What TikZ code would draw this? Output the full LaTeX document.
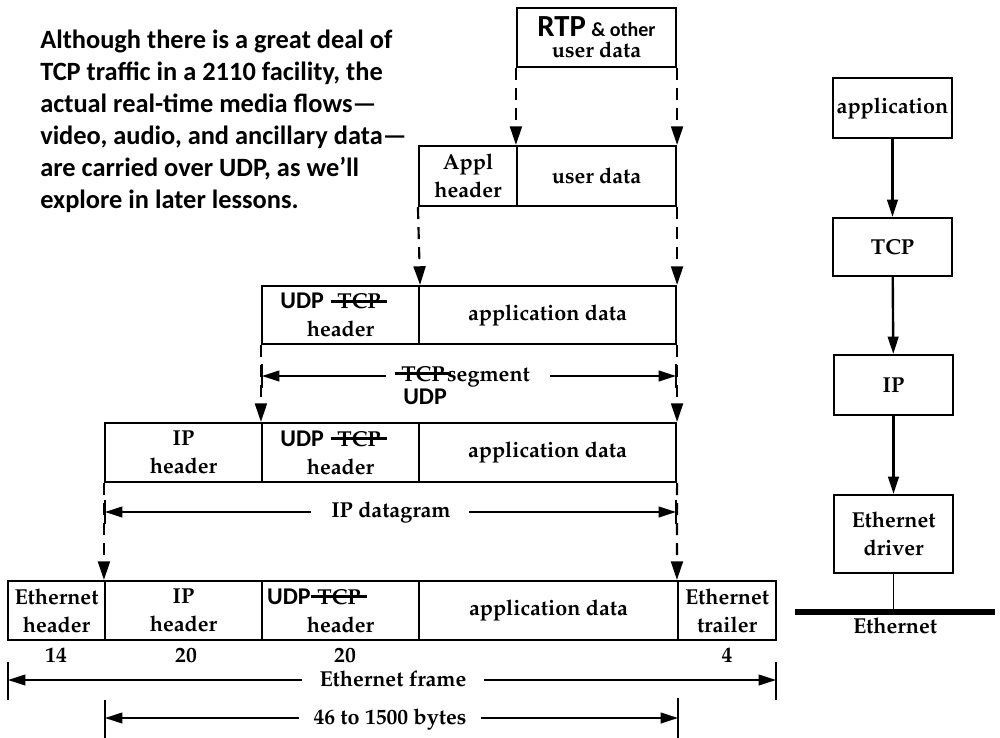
\documentclass[tikz,border=0pt]{standalone}
\usepackage[T1]{fontenc}
\usepackage{fontspec}
\newfontfamily\carl{Carlito}
\usetikzlibrary{arrows.meta,calc}
\newcommand\pal{\fontencoding{T1}\fontfamily{ppl}\fontseries{b}\selectfont}
\newcommand\sff{\carl\bfseries}
\newcommand\sfu{\carl\bfseries\fontsize{18}{21}\selectfont}
\newcommand\strk[1]{\setbox0\hbox{#1}\rlap{\kern-5pt\raisebox{0.28em}{\rule{\dimexpr\wd0+10pt\relax}{2.2pt}}}\box0}
\newcommand\cellbox[6]{\node[cell,minimum width={(#4-#2)*0.75pt},minimum height={(#5-#3)*0.75pt}] (#1) at ({(#2+#4)/2},{(#3+#5)/2}) {#6};}
\tikzset{
  cell/.style={draw, line width=1.6pt, inner sep=0, align=center, font=\pal\fontsize{16.2}{21}\selectfont},
  dsh/.style={line width=1.6pt, dash pattern=on 9pt off 6pt, -{Triangle[length=14pt,width=9pt]}},
  dim/.style={line width=1.4pt, -{Triangle[length=13pt,width=8pt]}},
  bar/.style={line width=1.5pt},
  flow/.style={line width=1.8pt, -{Triangle[length=13pt,width=8pt]}},
  lbl/.style={inner sep=0, font=\pal\fontsize{16.2}{21}\selectfont}
}
\begin{document}
\begin{tikzpicture}[x=0.75pt,y=-0.75pt]
\useasboundingbox (0,0) rectangle (1000,738);
% note
\node[anchor=north west, align=left, inner sep=0, font=\carl\bfseries\fontsize{19.8}{23.9}\selectfont] (note) at (40,30)
 {Although there is a great deal of\\TCP traffic in a 2110 facility, the\\actual real-time media flows—\\video, audio, and ancillary data—\\are carried over UDP, as we’ll\\explore in later lessons.};
% rows
\cellbox{rtp}{517}{8}{676}{67}{{\sff\fontsize{23}{24}\selectfont RTP}\hspace{4pt}{\sff\fontsize{15}{16}\selectfont\&~other}\\[-5pt]user data}
\cellbox{applh}{419}{146}{517}{206}{Appl\\header}
\cellbox{ud1}{517}{146}{676}{206}{user data}
\cellbox{udph}{262}{286}{419}{344}{{\sfu UDP}\hspace{10pt}\strk{TCP}\hspace*{15pt}\\header}
\cellbox{appd2}{419}{286}{676}{344}{application data}
\cellbox{iph}{105}{423}{262}{482}{IP\\header}
\cellbox{udph2}{262}{423}{419}{482}{{\sfu UDP}\hspace{10pt}\strk{TCP}\hspace*{15pt}\\header}
\cellbox{appd3}{419}{423}{676}{482}{application data}
\cellbox{eh}{8}{581}{105}{640}{Ethernet\\header}
\cellbox{eip}{105}{581}{262}{640}{IP\\header}
\cellbox{eudp}{262}{581}{419}{640}{{\sfu UDP}\hspace{5pt}\strk{TCP}\hspace*{40pt}\\header}
\cellbox{eapp}{419}{581}{678}{640}{application data}
\cellbox{etr}{678}{581}{776}{640}{Ethernet\\trailer}
% dashed arrows
\draw[dsh] (rtp.south west) -- (ud1.north west);
\draw[dsh] (rtp.south east) -- (ud1.north east);
\draw[dsh] (applh.south west) -- (udph.north east);
\draw[dsh] (ud1.south east) -- (appd2.north east);
\draw[dsh] (udph.south west) -- (udph2.north west);
\draw[dsh] (appd2.south east) -- (appd3.north east);
\draw[dsh] (iph.south west) -- (eip.north west);
\draw[dsh] (appd3.south east) -- (etr.north west);
% TCP segment dimension
\coordinate (segL) at (262,376);
\coordinate (segR) at (676,376);
\node[lbl, anchor=base west] (seg) at (401,381) {\strk{TCP}\hspace{2pt}segment};
\node[lbl, anchor=base west] (segudp) at (403,404) {\sfu UDP};
\draw[bar] ($(segL)+(0,-12)$) -- ($(segL)+(0,12)$);
\draw[bar] ($(segR)+(0,-12)$) -- ($(segR)+(0,12)$);
\draw[dim] ($(seg.west |- segL)+(-15,0)$) -- (segL);
\draw[dim] ($(seg.east |- segR)+(20,0)$) -- (segR);
% IP datagram
\coordinate (dgL) at (105,512);
\coordinate (dgR) at (676,512);
\node[lbl, anchor=base] (dg) at (391,517) {IP datagram};
\draw[bar] ($(dgL)+(0,-12)$) -- ($(dgL)+(0,12)$);
\draw[bar] ($(dgR)+(0,-12)$) -- ($(dgR)+(0,12)$);
\draw[dim] ($(dg.west |- dgL)+(-20,0)$) -- (dgL);
\draw[dim] ($(dg.east |- dgR)+(18,0)$) -- (dgR);
% sizes
\node[lbl] (n14) at (56,655) {14};
\node[lbl] (n20a) at (186,655) {20};
\node[lbl] (n20b) at (345,655) {20};
\node[lbl] (n4) at (727,655) {4};
% Ethernet frame
\coordinate (efL) at (8,680);
\coordinate (efR) at (776,680);
\node[lbl, anchor=base] (ef) at (393,686) {Ethernet frame};
\draw[bar] ($(efL)+(0,-18)$) -- ($(efL)+(0,20)$);
\draw[bar] ($(efR)+(0,-18)$) -- ($(efR)+(0,20)$);
\draw[dim] ($(ef.west |- efL)+(-17,0)$) -- (efL);
\draw[dim] ($(ef.east |- efR)+(17,0)$) -- (efR);
% 46 to 1500 bytes
\coordinate (byL) at (105,718);
\coordinate (byR) at (678,718);
\node[lbl, anchor=base] (by) at (390,724) {46 to 1500 bytes};
\draw[bar] ($(byL)+(0,-18)$) -- ($(byL)+(0,20)$);
\draw[bar] ($(byR)+(0,-20)$) -- ($(byR)+(0,20)$);
\draw[dim] ($(by.west |- byL)+(-14,0)$) -- (byL);
\draw[dim] ($(by.east |- byR)+(14,0)$) -- (byR);
% right stack
\cellbox{app}{833}{78}{952}{138}{application}
\cellbox{tcp}{833}{218}{952}{276}{TCP}
\cellbox{ip}{834}{355}{953}{415}{IP}
\cellbox{drv}{834}{495}{953}{573}{Ethernet\\driver}
\draw[flow] (app) -- (tcp);
\draw[flow] (tcp) -- (ip);
\draw[flow] (ip) -- (drv);
\coordinate (ebL) at (795,612);
\coordinate (ebR) at (995,612);
\draw[line width=3.8pt] (ebL) -- (ebR);
\draw[line width=1.2pt] (drv.south) -- (drv.south |- ebL);
\node[lbl, anchor=base] (ethnet) at (895,633) {Ethernet};
\end{tikzpicture}
\end{document}
